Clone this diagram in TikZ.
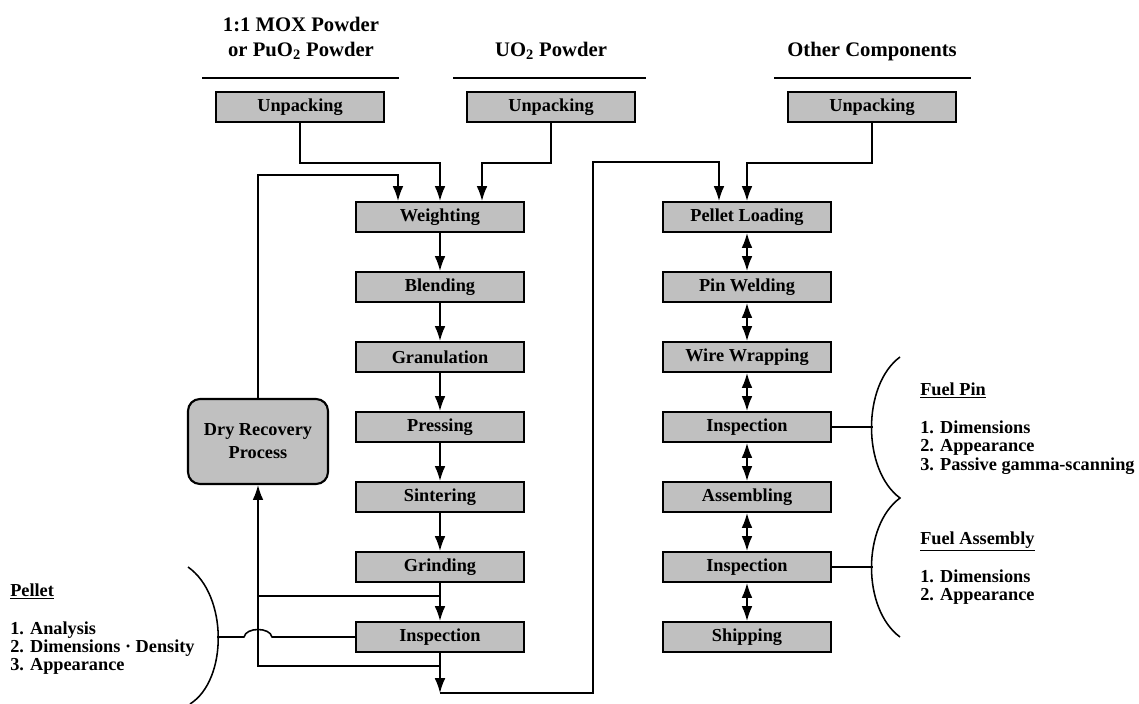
\documentclass[tikz,border=0pt]{standalone}
\usepackage{fontspec}
\setmainfont{Liberation Serif}
\usetikzlibrary{arrows.meta}
\definecolor{boxgray}{RGB}{192,192,192}

\tikzset{
	procbox/.style={draw, line width=1.5pt, fill=boxgray, minimum width=4.2cm, minimum height=0.75cm, inner sep=0pt, font=\fontsize{13}{13}\selectfont\bfseries},
	recbox/.style={procbox, rounded corners=0.3cm, minimum width=3.5cm, minimum height=2.125cm, align=center, font=\fontsize{13}{16.4}\selectfont\bfseries},
	flow/.style={line width=1.1pt},
	headtxt/.style={font=\fontsize{14.7}{14.7}\selectfont\bfseries, anchor=base, inner sep=0pt},
	notetxt/.style={font=\fontsize{13}{13}\selectfont\bfseries, anchor=base west, inner sep=0pt},
	headbar/.style={line width=2.1pt}
}

\begin{document}
\begin{tikzpicture}[x=0.025cm, y=-0.025cm, >={Latex[length=10.5pt,width=7.6pt]}]
	\useasboundingbox (0,0) rectangle (1139,704);
	% sources
	\node[headtxt] (hmoxa) at (301,31) {1:1 MOX Powder};
	\node[headtxt] (hmoxb) at (301,56) {or PuO\textsubscript{2} Powder};
	\node[headtxt] (huo) at (551,56) {UO\textsubscript{2} Powder};
	\node[headtxt] (hoth) at (872,56) {Other Components};
	\draw[headbar] (202,78) -- (399,78);
	\draw[headbar] (453,78) -- (646,78);
	\draw[headbar] (774,78) -- (971,78);
	\node[procbox] (unpmox) at (300,107) {Unpacking};
	\node[procbox] (unpuo) at (551,107) {Unpacking};
	\node[procbox] (unpoth) at (872,107) {Unpacking};

	% pellet line
	\node[procbox] (weigh) at (440,217) {Weighting};
	\node[procbox] (blend) at (440,287) {Blending};
	\node[procbox] (gran) at (440,357) {Granulation};
	\node[procbox] (press) at (440,427) {Pressing};
	\node[procbox] (sinter) at (440,497) {Sintering};
	\node[procbox] (grind) at (440,567) {Grinding};
	\node[procbox] (pinsp) at (440,637) {Inspection};
	\node[recbox] (drec) at (258,441.5) {Dry Recovery\\Process};

	% pin and assembly line
	\node[procbox] (load) at (747,217) {Pellet Loading};
	\node[procbox] (weld) at (747,287) {Pin Welding};
	\node[procbox] (wrap) at (747,357) {Wire Wrapping};
	\node[procbox] (finsp) at (747,427) {Inspection};
	\node[procbox] (assem) at (747,497) {Assembling};
	\node[procbox] (ainsp) at (747,567) {Inspection};
	\node[procbox] (ship) at (747,637) {Shipping};

	\draw[flow,->] (unpmox.south) -- ++(0,40) -| (weigh.north);
	\draw[flow,->] (unpuo.south) -- ++(0,40) -| ([xshift=1.05cm]weigh.north);
	\draw[flow,->] (drec.north) |- ([xshift=-1.05cm,yshift=0.65cm]weigh.north) -- ([xshift=-1.05cm]weigh.north);
	\draw[flow,->] (unpoth.south) -- ++(0,40) -| (load.north);
	\foreach \a/\b in {weigh/blend, blend/gran, gran/press, press/sinter, sinter/grind, grind/pinsp}
		\draw[flow,->] (\a) -- (\b);
	\foreach \a/\b in {load/weld, weld/wrap, wrap/finsp, finsp/assem, assem/ainsp, ainsp/ship}
		\draw[flow,<->] (\a) -- (\b);

	% recycling and transfer
	\coordinate (gtap) at (440,596);
	\coordinate (itap) at (440,666);
	\coordinate (iout) at (440,693);
	\coordinate (bypass) at (593,162);
	\draw[flow] (gtap) -- (gtap -| drec.south);
	\draw[flow,->] (itap) -| (drec.south);
	\draw[flow,->] (pinsp) -- (iout);
	\draw[flow,->] (iout) -| (bypass) -| ([xshift=-0.7cm]load.north);

	% inspection items
	\draw[flow] (pinsp.west) -- (272,637) .. controls (270,627) and (246,627) .. (244,637) -- (217,637);
	\draw[flow] (188,567) .. controls (228,595) and (228,680) .. (190,704);
	\draw[flow] (finsp.east) -- ++(41,0);
	\draw[flow] (ainsp.east) -- ++(41,0);
	\draw[flow] (900,357) .. controls (862,385) and (862,470) .. (900,498) .. controls (862,526) and (862,609) .. (900,637);

	\node[notetxt] (pelhd) at (10,596) {\underline{Pellet}};
	\node[notetxt] (pel1) at (10,634) {1. Analysis};
	\node[notetxt] (pel2) at (10,652) {2. Dimensions · Density};
	\node[notetxt] (pel3) at (10,670) {3. Appearance};
	\node[notetxt] (pinhd) at (920,395) {\underline{Fuel Pin}};
	\node[notetxt] (pin1) at (920,433) {1. Dimensions};
	\node[notetxt] (pin2) at (920,451) {2. Appearance};
	\node[notetxt] (pin3) at (920,470) {3. Passive gamma-scanning};
	\node[notetxt] (asmhd) at (920,544) {\underline{Fuel Assembly}};
	\node[notetxt] (asm1) at (920,582) {1. Dimensions};
	\node[notetxt] (asm2) at (920,600) {2. Appearance};
\end{tikzpicture}
\end{document}
